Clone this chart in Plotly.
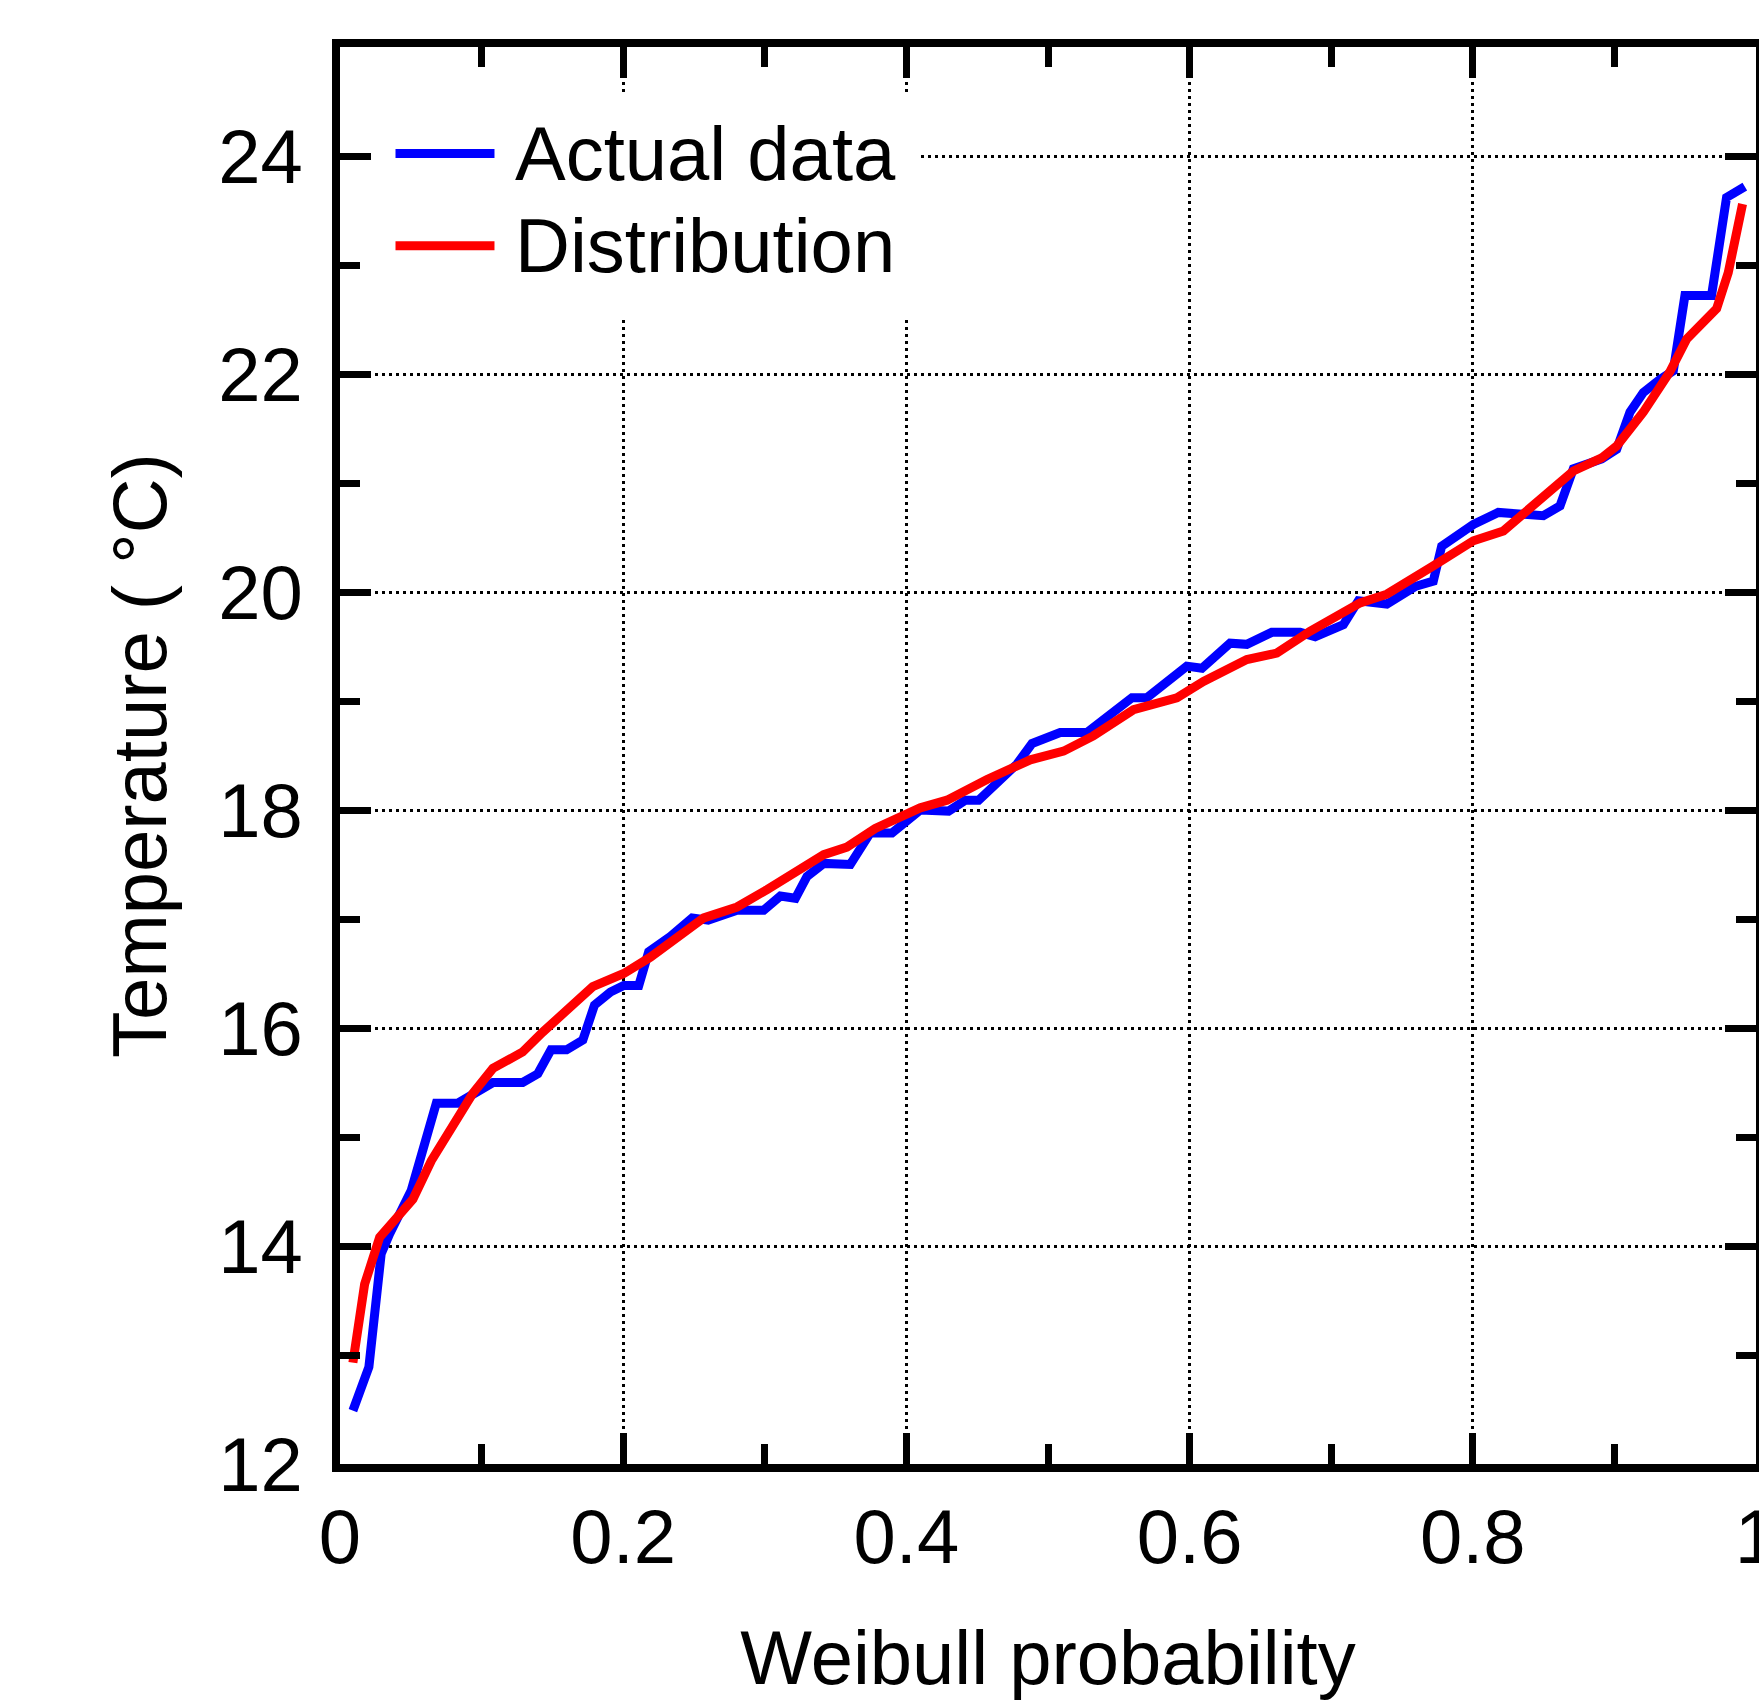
import plotly.graph_objects as go

# ---- data ----
prob_actual = [0.0091, 0.0204, 0.0291, 0.035, 0.0503, 0.068, 0.0832, 0.108, 0.129, 0.1397,
               0.149, 0.160, 0.1715, 0.1797, 0.191, 0.2004, 0.211, 0.218, 0.2334, 0.2487,
               0.260, 0.2804, 0.2992, 0.311, 0.3216, 0.3298, 0.3416, 0.3604, 0.3745, 0.3898,
               0.4098, 0.4298, 0.4416, 0.451, 0.478, 0.4887, 0.5086, 0.5275, 0.5593, 0.5698,
               0.598, 0.6087, 0.6286, 0.6404, 0.658, 0.678, 0.6887, 0.7086, 0.7192, 0.7393,
               0.7592, 0.7721, 0.778, 0.8004, 0.818, 0.8498, 0.8616, 0.871, 0.891, 0.9016,
               0.911, 0.9204, 0.9322, 0.9416, 0.9498, 0.9686, 0.9792, 0.9921]
temp_actual = [12.49, 12.89, 13.93, 14.11, 14.51, 15.31, 15.31, 15.50, 15.50, 15.58,
               15.80, 15.80, 15.89, 16.21, 16.33, 16.39, 16.39, 16.70, 16.84, 17.01,
               16.99, 17.08, 17.08, 17.21, 17.19, 17.39, 17.51, 17.50, 17.79, 17.79,
               18.00, 17.99, 18.09, 18.09, 18.42, 18.61, 18.71, 18.71, 19.03, 19.03,
               19.32, 19.30, 19.53, 19.52, 19.63, 19.63, 19.59, 19.70, 19.92, 19.89,
               20.05, 20.10, 20.42, 20.62, 20.73, 20.70, 20.79, 21.13, 21.22, 21.31,
               21.65, 21.83, 21.95, 22.03, 22.72, 22.72, 23.62, 23.72]

prob_dist = [0.0091, 0.0174, 0.028, 0.0515, 0.0644, 0.0797, 0.0938, 0.108, 0.129, 0.143,
             0.160, 0.1785, 0.2004, 0.2192, 0.2569, 0.2804, 0.3016, 0.3228, 0.3416, 0.358,
             0.378, 0.4098, 0.4287, 0.4569, 0.4875, 0.511, 0.532, 0.5604, 0.5698, 0.591,
             0.6098, 0.6404, 0.6616, 0.685, 0.7204, 0.7393, 0.7721, 0.8004, 0.8216, 0.8545,
             0.871, 0.891, 0.9016, 0.9204, 0.9392, 0.951, 0.9722, 0.9804, 0.9905]
temp_dist = [12.93, 13.65, 14.08, 14.43, 14.78, 15.12, 15.40, 15.63, 15.78, 15.96,
             16.15, 16.38, 16.50, 16.65, 17.01, 17.11, 17.27, 17.43, 17.59, 17.66,
             17.83, 18.02, 18.09, 18.28, 18.46, 18.54, 18.68, 18.92, 18.95, 19.03,
             19.18, 19.38, 19.44, 19.64, 19.90, 19.98, 20.24, 20.47, 20.56, 20.94,
             21.11, 21.23, 21.34, 21.65, 22.02, 22.32, 22.60, 22.93, 23.56]

series_names = ["Actual data", "Distribution"]
series_colors = ["#0000ff", "#ff0000"]

x_tickvals = [0, 0.2, 0.4, 0.6, 0.8, 1]
x_ticktext = ["0", "0.2", "0.4", "0.6", "0.8", "1"]
x_minorvals = [0.1, 0.3, 0.5, 0.7, 0.9]
y_tickvals = [12, 14, 16, 18, 20, 22, 24]
y_ticktext = ["12", "14", "16", "18", "20", "22", "24"]
y_minorvals = [13, 15, 17, 19, 21, 23, 25]

x_title = "Weibull probability"
y_title = "Temperature ( °C)"

FONT = "Liberation Sans, Arial, Helvetica, sans-serif"
FS = 76

fig = go.Figure()
fig.add_trace(go.Scatter(x=prob_actual, y=temp_actual, mode="lines", name=series_names[0],
                         line=dict(color=series_colors[0], width=9)))
fig.add_trace(go.Scatter(x=prob_dist, y=temp_dist, mode="lines", name=series_names[1],
                         line=dict(color=series_colors[1], width=9)))

axis_common = dict(
    ticks="inside", tickwidth=7, tickcolor="black",
    showline=True, linewidth=8, linecolor="black", mirror="allticks",
    showgrid=True, gridcolor="#000000", gridwidth=2.5, griddash="3px,4px",
    zeroline=False, tickfont=dict(family=FONT, size=FS, color="black"),
    ticklabeloverflow="allow",
)

fig.update_layout(
    width=1759, height=1700,
    margin=dict(l=340, r=3, t=47, b=236, autoexpand=False),
    paper_bgcolor="white", plot_bgcolor="white",
    showlegend=False,
    font=dict(family=FONT, size=FS, color="black"),
    xaxis=dict(range=[0, 1], tickmode="array", tickvals=x_tickvals, ticktext=x_ticktext,
               ticklen=31,
               minor=dict(tickmode="array", tickvals=x_minorvals, ticks="inside", ticklen=20,
                          tickwidth=7, tickcolor="black", showgrid=False),
               title=dict(text=x_title, font=dict(family=FONT, size=FS, color="black"), standoff=60),
               ticklabelstandoff=0,
               **axis_common),
    yaxis=dict(range=[12, 25], tickmode="array", tickvals=y_tickvals, ticktext=y_ticktext,
               ticklen=31,
               minor=dict(tickmode="array", tickvals=y_minorvals, ticks="inside", ticklen=20,
                          tickwidth=7, tickcolor="black", showgrid=False),
               title=dict(text=y_title, font=dict(family=FONT, size=FS, color="black"), standoff=30),
               ticklabelstandoff=14,
               **axis_common),
)

# manual legend (white box hiding the grid, sample lines, labels)
fig.add_shape(type="rect", xref="paper", yref="paper", x0=0.024, x1=0.408, y0=0.809, y1=0.968,
              fillcolor="white", line=dict(width=0), layer="above")
legend_y = [0.9248, 0.8597]
for name, color, ly in zip(series_names, series_colors, legend_y):
    fig.add_shape(type="line", xref="paper", yref="paper", x0=0.0392, x1=0.1091, y0=ly, y1=ly,
                  line=dict(color=color, width=9), layer="above")
    fig.add_annotation(xref="paper", yref="paper", x=0.1225, y=ly, text=name, showarrow=False,
                       xanchor="left", yanchor="middle",
                       font=dict(family=FONT, size=FS, color="black"))

fig.write_html("out.html")
